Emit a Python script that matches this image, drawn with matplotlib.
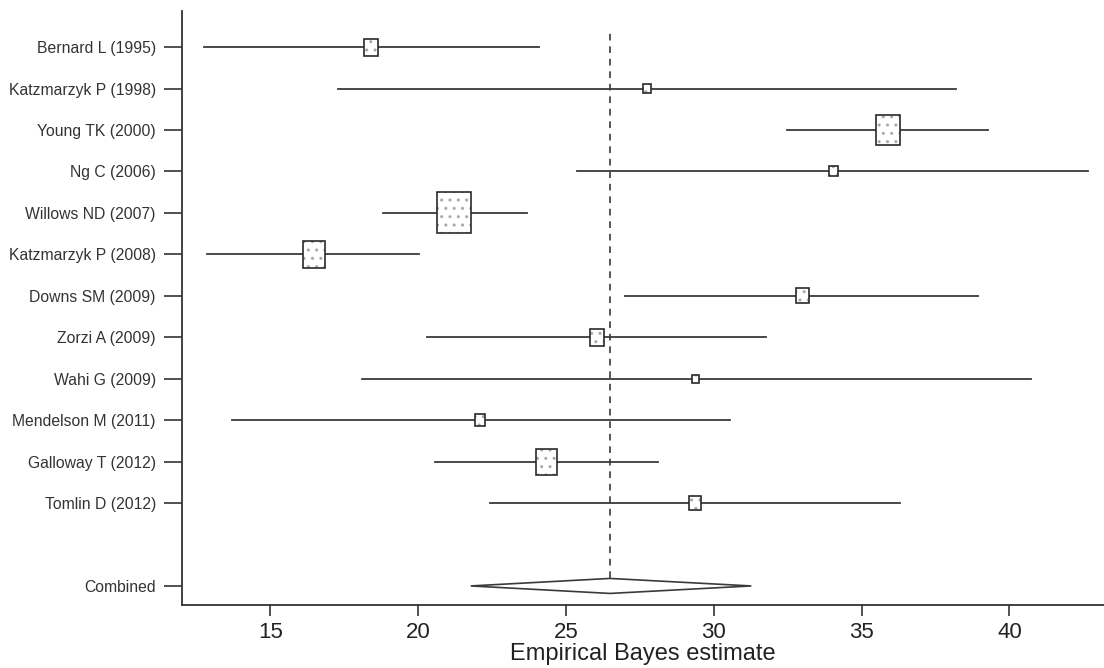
import numpy as np
import matplotlib
matplotlib.use("Agg")
import matplotlib.pyplot as plt
from matplotlib.patches import Rectangle, Polygon

plt.rcParams['font.family'] = ['Liberation Sans', 'DejaVu Sans']

studies = ['Bernard L (1995)', 'Katzmarzyk P (1998)', 'Young TK (2000)', 'Ng C (2006)',
           'Willows ND (2007)', 'Katzmarzyk P (2008)', 'Downs SM (2009)', 'Zorzi A (2009)',
           'Wahi G (2009)', 'Mendelson M (2011)', 'Galloway T (2012)', 'Tomlin D (2012)']
est = [18.42, 27.74, 35.89, 34.05, 21.22, 16.48, 33.0, 26.05, 29.38, 22.1, 24.35, 29.38]
lo = [12.77, 17.3, 32.49, 25.37, 18.81, 12.87, 26.99, 20.31, 18.1, 13.70, 20.58, 22.44]
hi = [24.1, 38.2, 39.29, 42.67, 23.69, 20.04, 38.95, 31.78, 40.73, 30.56, 28.12, 36.3]
weights = [5.4, 1.7, 15.7, 1.9, 31.3, 14.1, 4.2, 5.4, 1.2, 2.7, 12.6, 4.0]

comb_est = 26.49
comb_lo = 21.78
comb_hi = 31.27

fig = plt.figure(figsize=(11.04, 6.68), dpi=100)
ax = fig.add_axes([0.165, 0.0943, 0.835, 0.8892])

n = len(studies)
ypos = np.arange(n, 0, -1)  # 12 .. 1
y_comb = -1

ax.set_xlim(12.02, 43.2)
ax.set_ylim(-1.46, 12.87)

# pixel -> data conversion for box sizes
bbox = ax.get_window_extent()
px_x = bbox.width / (ax.get_xlim()[1] - ax.get_xlim()[0])
px_y = bbox.height / (ax.get_ylim()[1] - ax.get_ylim()[0])

lc = '#3a3a3a'
for y, e, l, h, w in zip(ypos, est, lo, hi, weights):
    ax.plot([l, h], [y, y], color=lc, lw=1.3, zorder=2)
    side = 41 * np.sqrt(w / max(weights))  # box height in px
    bw = side * 0.82 / px_x
    bh = side / px_y
    ax.add_patch(Rectangle((e - bw / 2, y - bh / 2), bw, bh, facecolor='white',
                           edgecolor='#a8a8a8', hatch='..', lw=0, zorder=3))
    ax.add_patch(Rectangle((e - bw / 2, y - bh / 2), bw, bh, facecolor='none',
                           edgecolor='#2a2a2a', lw=1.2, zorder=4))

# combined diamond
dh = 7.5 / px_y
ax.add_patch(Polygon([[comb_lo, y_comb], [comb_est, y_comb + dh],
                      [comb_hi, y_comb], [comb_est, y_comb - dh]],
                     closed=True, facecolor='white', edgecolor=lc, lw=1.2, zorder=3))

# reference line at combined estimate
ax.plot([comb_est, comb_est], [y_comb + dh, 12.34], color=lc, lw=1.2,
        linestyle=(0, (4, 3.5)), zorder=1)

ax.set_yticks(list(ypos) + [y_comb])
ax.set_yticklabels(studies + ['Combined'], fontsize=11.3, color='#333333')
ax.set_xticks([15, 20, 25, 30, 35, 40])
ax.tick_params(axis='x', labelsize=16, length=8, width=1.2, color='#333333',
               labelcolor='#222222', pad=4)
ax.tick_params(axis='y', length=13, width=1.2, color='#333333', pad=6)
ax.set_xlabel('Empirical Bayes estimate', fontsize=17, color='#222222', labelpad=0)

for s in ['top', 'right']:
    ax.spines[s].set_visible(False)
for s in ['left', 'bottom']:
    ax.spines[s].set_linewidth(1.3)
    ax.spines[s].set_color('#333333')

fig.savefig('out.png', dpi=100)
